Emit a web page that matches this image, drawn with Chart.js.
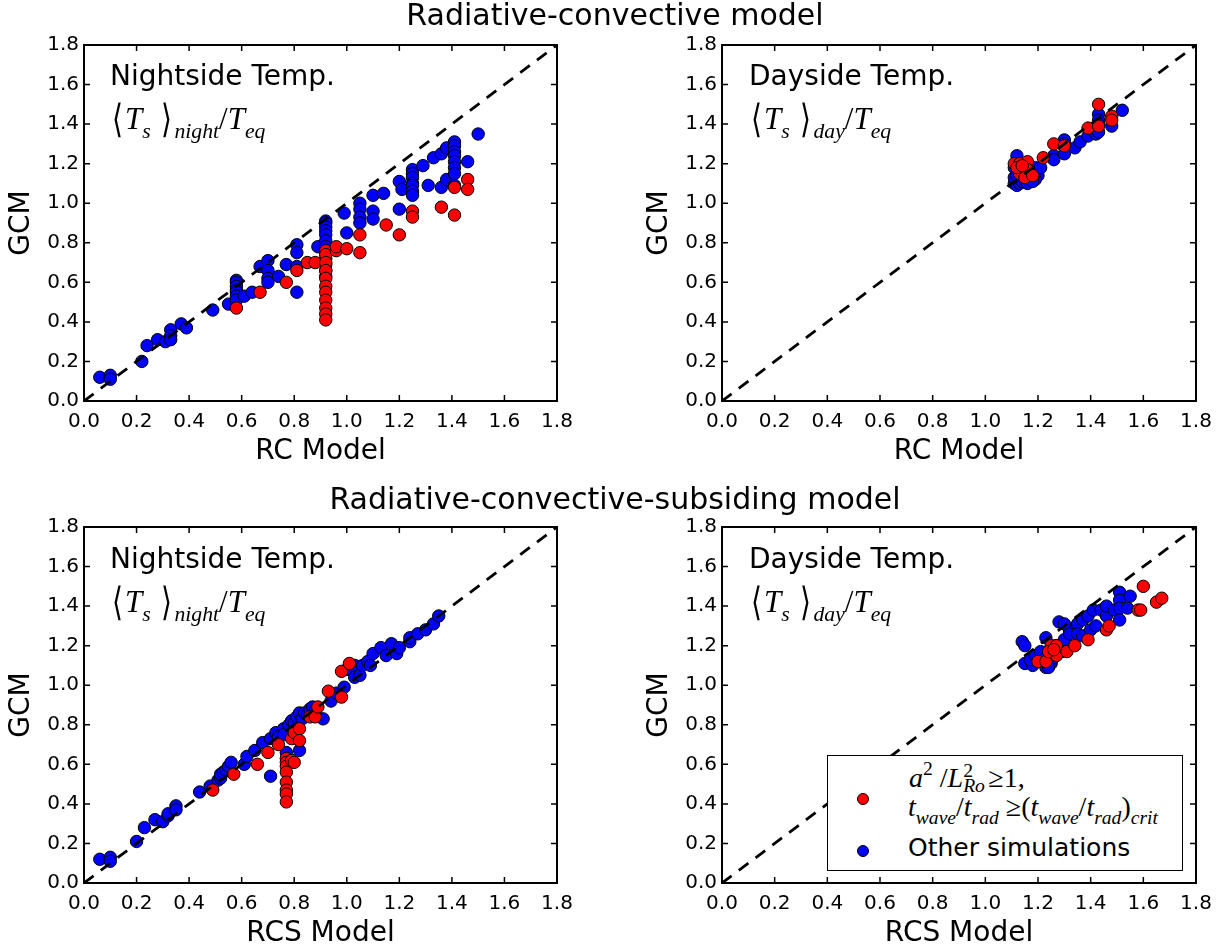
<!DOCTYPE html>
<html>
  <head>
    <meta charset="utf-8">
    <script src="https://cdn.jsdelivr.net/npm/chart.js@4.4.0/dist/chart.umd.min.js"></script>
    <style>
      html, body {
        margin: 0;
        padding: 0;
        overflow: hidden;
        background: #fff;
        font-family: "DejaVu Sans", sans-serif;
        color: #000;
      }
      #page {
        position: relative;
        width: 1230px;
        height: 951px;
        overflow: hidden;
      }
      canvas {
        position: absolute;
      }
      .suptitle {
        position: absolute;
        left: 0;
        width: 1230px;
        text-align: center;
        font-size: 30px;
        line-height: 1;
      }
      .note {
        position: absolute;
        font-size: 28px;
        line-height: 1;
        white-space: nowrap;
      }
      .math {
        position: absolute;
        font-family: "Liberation Serif", serif;
        font-size: 31px;
        line-height: 1;
        white-space: nowrap;
      }
      .math i, .leg i {
        font-style: italic;
      }
      .math sub, .leg sub {
        font-size: 70%;
        line-height: 0;
        vertical-align: -0.4em;
      }
      .math sup, .leg sup {
        font-size: 70%;
        line-height: 0;
        vertical-align: 0.6em;
      }
      .br {
        display: inline-block;
        font-family: "DejaVu Sans", sans-serif;
        font-weight: 200;
        transform: scale(0.9, 1.25);
        margin: 0 2px;
      }
      #legend {
        position: absolute;
        left: 827px;
        top: 755px;
        width: 354px;
        height: 114px;
        border: 1.5px solid #000;
        background: #fff;
      }
      .dot {
        position: absolute;
        width: 10px;
        height: 10px;
        border: 1px solid #000;
        border-radius: 50%;
      }
      .leg {
        position: absolute;
        font-family: "Liberation Serif", serif;
        font-size: 28px;
        line-height: 1;
        white-space: nowrap;
      }
      .stk {
        position: relative;
        display: inline-block;
        height: 0;
        width: 0.9em;
      }
      .stk span {
        position: absolute;
        left: 0;
        font-size: 70%;
        line-height: 1;
      }
    </style>
  </head>
  <body>
    <div id="page">
      <canvas id="rcNight"></canvas>
      <canvas id="rcDay"></canvas>
      <canvas id="rcsNight"></canvas>
      <canvas id="rcsDay"></canvas>

      <div class="suptitle" style="top:0px">Radiative-convective model</div>
      <div class="suptitle" style="top:484px">Radiative-convective-subsiding model</div>

      <div class="note" style="left:110px; top:62px">Nightside Temp.</div>
      <div class="math" style="left:109px; top:103px"><span class="br">⟨</span><i>T</i><sub><i>s</i></sub> <span class="br">⟩</span><sub><i>night</i></sub>/<i>T</i><sub><i>eq</i></sub></div>
      <div class="note" style="left:749px; top:62px">Dayside Temp.</div>
      <div class="math" style="left:748px; top:103px"><span class="br">⟨</span><i>T</i><sub><i>s</i></sub> <span class="br">⟩</span><sub><i>day</i></sub>/<i>T</i><sub><i>eq</i></sub></div>
      <div class="note" style="left:110px; top:545px">Nightside Temp.</div>
      <div class="math" style="left:109px; top:586px"><span class="br">⟨</span><i>T</i><sub><i>s</i></sub> <span class="br">⟩</span><sub><i>night</i></sub>/<i>T</i><sub><i>eq</i></sub></div>
      <div class="note" style="left:749px; top:545px">Dayside Temp.</div>
      <div class="math" style="left:748px; top:586px"><span class="br">⟨</span><i>T</i><sub><i>s</i></sub> <span class="br">⟩</span><sub><i>day</i></sub>/<i>T</i><sub><i>eq</i></sub></div>

      <div id="legend">
        <div class="dot" style="left:29px; top:37px; background:#ff0000"></div>
        <div class="dot" style="left:29px; top:89px; background:#0000ff"></div>
        <div class="leg" style="left:81px; top:8px"><i>a</i><sup>2</sup> /<i>L</i><span class="stk"><span style="bottom:0.35em">2</span><span style="top:-0.55em"><i>Ro</i></span></span>≥1,</div>
        <div class="leg" style="left:80px; top:37px"><i>t</i><sub><i>wave</i></sub>/<i>t</i><sub><i>rad</i></sub> ≥(<i>t</i><sub><i>wave</i></sub>/<i>t</i><sub><i>rad</i></sub>)<sub><i>crit</i></sub></div>
        <div class="note" style="left:80px; top:79px; font-size:25px">Other simulations</div>
      </div>
    </div>

    <script>
      // axes: both go 0..1.8
      const tickValues = [0, 0.2, 0.4, 0.6, 0.8, 1.0, 1.2, 1.4, 1.6, 1.8];
      const tickLabels = ['0.0', '0.2', '0.4', '0.6', '0.8', '1.0', '1.2', '1.4', '1.6', '1.8'];
      const oneToOne = [[0, 0], [1.8, 1.8]];

      // RC model, nightside  [model, GCM]
      const rcNightBlue = [
        [0.06, 0.12], [0.10, 0.13], [0.10, 0.11], [0.22, 0.20], [0.24, 0.28], [0.28, 0.31], [0.31, 0.30],
        [0.33, 0.36], [0.33, 0.33], [0.33, 0.31], [0.37, 0.39], [0.39, 0.37], [0.49, 0.46], [0.55, 0.49],
        [0.58, 0.61], [0.58, 0.60], [0.58, 0.58], [0.58, 0.56], [0.58, 0.55], [0.58, 0.53], [0.58, 0.51],
        [0.61, 0.53], [0.64, 0.55], [0.67, 0.68], [0.70, 0.71], [0.70, 0.66], [0.70, 0.62], [0.70, 0.60],
        [0.74, 0.63], [0.77, 0.69], [0.81, 0.79], [0.81, 0.75], [0.81, 0.68], [0.81, 0.55], [0.89, 0.78],
        [0.92, 0.91], [0.92, 0.90], [0.92, 0.88], [0.92, 0.86], [0.92, 0.84], [0.92, 0.81], [0.92, 0.78],
        [0.92, 0.75], [0.92, 0.72], [0.92, 0.69], [0.92, 0.66], [0.92, 0.63],
        [0.99, 0.95], [1.00, 0.85], [1.05, 1.00], [1.05, 0.97], [1.05, 0.93], [1.05, 0.90],
        [1.10, 1.04], [1.10, 0.96], [1.10, 0.92], [1.14, 1.05], [1.20, 1.11], [1.21, 1.07], [1.20, 0.97],
        [1.25, 1.17], [1.25, 1.15], [1.25, 1.13], [1.25, 1.10], [1.25, 1.09], [1.25, 1.06], [1.25, 1.04],
        [1.29, 1.19], [1.31, 1.09], [1.33, 1.23], [1.36, 1.25], [1.36, 1.08], [1.38, 1.28], [1.38, 1.12],
        [1.41, 1.31], [1.41, 1.29], [1.41, 1.26], [1.41, 1.24], [1.41, 1.21], [1.41, 1.18], [1.41, 1.15],
        [1.41, 1.09], [1.46, 1.21], [1.50, 1.35]
      ];
      const rcNightRed = [
        [0.58, 0.47], [0.67, 0.55], [0.77, 0.60], [0.81, 0.66], [0.85, 0.70], [0.88, 0.70],
        [0.92, 0.76], [0.92, 0.74], [0.92, 0.70], [0.92, 0.66], [0.92, 0.62], [0.92, 0.58], [0.92, 0.55],
        [0.92, 0.51], [0.92, 0.47], [0.92, 0.44], [0.92, 0.41],
        [0.96, 0.76], [0.96, 0.78], [1.00, 0.77], [1.05, 0.84], [1.05, 0.75], [1.15, 0.89], [1.20, 0.84],
        [1.25, 0.96], [1.25, 0.93], [1.36, 0.98], [1.41, 1.08], [1.41, 0.94], [1.46, 1.12], [1.46, 1.07]
      ];

      // RC model, dayside
      const rcDayBlue = [
        [1.12, 1.24], [1.11, 1.10], [1.12, 1.09], [1.13, 1.10], [1.11, 1.13], [1.12, 1.16], [1.14, 1.11],
        [1.15, 1.12], [1.17, 1.12], [1.19, 1.18], [1.20, 1.14], [1.21, 1.18], [1.19, 1.12], [1.16, 1.10],
        [1.18, 1.11], [1.11, 1.18], [1.13, 1.20], [1.12, 1.14],
        [1.26, 1.24], [1.26, 1.22], [1.30, 1.32], [1.30, 1.25], [1.30, 1.30], [1.34, 1.28], [1.36, 1.31],
        [1.39, 1.34], [1.42, 1.35], [1.43, 1.45], [1.43, 1.42], [1.43, 1.40], [1.43, 1.36], [1.48, 1.39],
        [1.52, 1.47]
      ];
      const rcDayRed = [
        [1.11, 1.20], [1.13, 1.20], [1.13, 1.15], [1.16, 1.21], [1.16, 1.17], [1.15, 1.13], [1.18, 1.14],
        [1.12, 1.18], [1.14, 1.19], [1.22, 1.23], [1.26, 1.30], [1.30, 1.29], [1.39, 1.38], [1.43, 1.50],
        [1.43, 1.39], [1.48, 1.44], [1.48, 1.42]
      ];

      // RCS model, nightside
      const rcsNightBlue = [
        [0.06, 0.12], [0.10, 0.13], [0.10, 0.11], [0.20, 0.21], [0.23, 0.28], [0.27, 0.32], [0.30, 0.31],
        [0.32, 0.34], [0.32, 0.35], [0.35, 0.39], [0.35, 0.37], [0.44, 0.46], [0.48, 0.49],
        [0.51, 0.52], [0.52, 0.53], [0.52, 0.55], [0.53, 0.56], [0.54, 0.57], [0.55, 0.59], [0.56, 0.61],
        [0.61, 0.60], [0.62, 0.64], [0.65, 0.67], [0.68, 0.71], [0.71, 0.73], [0.73, 0.76], [0.76, 0.78],
        [0.71, 0.54], [0.77, 0.66], [0.82, 0.67], [0.74, 0.74], [0.76, 0.75], [0.78, 0.80], [0.79, 0.82],
        [0.80, 0.81], [0.81, 0.84], [0.82, 0.86], [0.83, 0.83], [0.84, 0.86], [0.85, 0.85], [0.86, 0.88],
        [0.87, 0.89], [0.88, 0.87], [0.91, 0.83], [0.94, 0.92], [0.96, 0.96], [0.99, 0.99],
        [1.00, 1.08], [1.03, 1.10], [1.03, 1.04], [1.05, 1.05], [1.06, 1.10], [1.08, 1.12], [1.09, 1.10],
        [1.10, 1.16], [1.13, 1.19], [1.15, 1.15], [1.17, 1.21], [1.19, 1.16], [1.20, 1.19],
        [1.24, 1.22], [1.24, 1.24], [1.27, 1.26], [1.30, 1.28], [1.33, 1.31], [1.35, 1.35]
      ];
      const rcsNightRed = [
        [0.49, 0.47], [0.57, 0.55], [0.66, 0.60], [0.70, 0.66], [0.74, 0.70],
        [0.77, 0.63], [0.77, 0.61], [0.77, 0.59], [0.77, 0.56], [0.77, 0.51], [0.77, 0.47], [0.77, 0.45],
        [0.77, 0.41], [0.79, 0.62], [0.80, 0.61], [0.79, 0.73], [0.80, 0.76], [0.82, 0.78], [0.82, 0.72],
        [0.86, 0.84], [0.88, 0.84], [0.89, 0.89], [0.93, 0.97], [0.98, 0.94], [0.98, 1.07], [1.01, 1.11]
      ];

      // RCS model, dayside
      const rcsDayBlue = [
        [1.14, 1.22], [1.15, 1.20], [1.15, 1.11], [1.18, 1.10], [1.20, 1.12], [1.22, 1.14], [1.23, 1.24],
        [1.23, 1.09], [1.25, 1.11], [1.17, 1.13], [1.19, 1.15], [1.21, 1.17], [1.24, 1.09], [1.26, 1.14],
        [1.27, 1.20], [1.29, 1.17], [1.30, 1.23], [1.32, 1.28], [1.35, 1.31], [1.37, 1.33], [1.39, 1.35],
        [1.41, 1.38], [1.44, 1.38], [1.47, 1.38], [1.28, 1.32], [1.30, 1.31], [1.32, 1.26], [1.35, 1.26],
        [1.37, 1.25], [1.40, 1.28], [1.42, 1.30], [1.46, 1.35], [1.46, 1.40], [1.49, 1.38],
        [1.51, 1.47], [1.51, 1.43], [1.51, 1.39], [1.51, 1.33], [1.54, 1.39], [1.55, 1.45]
      ];
      const rcsDayRed = [
        [1.20, 1.12], [1.23, 1.12], [1.25, 1.20], [1.27, 1.20], [1.27, 1.15], [1.24, 1.17], [1.26, 1.18],
        [1.31, 1.17], [1.34, 1.20], [1.39, 1.23], [1.46, 1.28], [1.47, 1.30], [1.58, 1.38], [1.59, 1.38],
        [1.60, 1.50], [1.65, 1.42], [1.67, 1.44]
      ];

      Chart.defaults.font.family = "'DejaVu Sans', sans-serif";
      Chart.defaults.color = '#000';

      // matplotlib-like box with inward ticks on all four sides
      const framePlugin = {
        id: 'frame',
        afterDatasetsDraw(chart) {
          const {ctx, chartArea: a, scales: {x, y}} = chart;
          ctx.save();
          ctx.strokeStyle = '#000';
          ctx.lineWidth = 1.5;
          ctx.beginPath();
          tickValues.forEach(v => {
            const px = x.getPixelForValue(v);
            const py = y.getPixelForValue(v);
            ctx.moveTo(px, a.bottom); ctx.lineTo(px, a.bottom - 6);
            ctx.moveTo(px, a.top); ctx.lineTo(px, a.top + 6);
            ctx.moveTo(a.left, py); ctx.lineTo(a.left + 6, py);
            ctx.moveTo(a.right, py); ctx.lineTo(a.right - 6, py);
          });
          ctx.stroke();
          ctx.lineWidth = 2;
          ctx.strokeRect(a.left, a.top, a.right - a.left, a.bottom - a.top);
          ctx.restore();
        }
      };

      function pts(arr) {
        return arr.map(p => ({x: p[0], y: p[1]}));
      }

      function axis(title, isX) {
        return {
          type: 'linear',
          min: 0,
          max: 1.8,
          afterBuildTicks: s => { s.ticks = tickValues.map(v => ({value: v})); },
          afterFit: s => { if (isX) s.height = 70; else s.width = 84; },
          grid: {display: false, drawTicks: false},
          border: {display: false},
          ticks: {
            callback: (v, i) => tickLabels[i],
            padding: isX ? 9 : 5,
            font: {size: 20},
            maxRotation: 0,
            autoSkip: false
          },
          title: {
            display: true,
            text: title,
            font: {size: 28, lineHeight: 1},
            padding: isX ? {top: 0, bottom: 5} : {top: 8, bottom: 0}
          }
        };
      }

      // box = plot area in page pixels
      function drawPanel(id, box, blue, red, xTitle) {
        const canvas = document.getElementById(id);
        canvas.width = box.w + 124;
        canvas.height = box.h + 110;
        canvas.style.left = (box.left - 84) + 'px';
        canvas.style.top = (box.top - 40) + 'px';

        const dot = {borderColor: '#000', borderWidth: 1, pointRadius: 6.2};
        new Chart(canvas, {
          type: 'scatter',
          data: {
            datasets: [
              {
                type: 'line',
                data: pts(oneToOne),
                borderColor: '#000',
                borderWidth: 2.8,
                borderDash: [12, 9],
                pointRadius: 0,
                fill: false
              },
              Object.assign({data: pts(red), backgroundColor: '#ff0000'}, dot),
              Object.assign({data: pts(blue), backgroundColor: '#0000ff'}, dot)
            ]
          },
          options: {
            responsive: false,
            animation: false,
            devicePixelRatio: 1,
            layout: {padding: {left: 0, top: 40, right: 40, bottom: 0}},
            plugins: {legend: {display: false}, tooltip: {enabled: false}},
            scales: {
              x: axis(xTitle, true),
              y: axis('GCM', false)
            }
          },
          plugins: [framePlugin]
        });
      }

      drawPanel('rcNight', {left: 84, top: 45, w: 473, h: 356}, rcNightBlue, rcNightRed, 'RC Model');
      drawPanel('rcDay', {left: 722, top: 45, w: 474, h: 356}, rcDayBlue, rcDayRed, 'RC Model');
      drawPanel('rcsNight', {left: 84, top: 527, w: 473, h: 356}, rcsNightBlue, rcsNightRed, 'RCS Model');
      drawPanel('rcsDay', {left: 722, top: 527, w: 474, h: 356}, rcsDayBlue, rcsDayRed, 'RCS Model');
    </script>
  </body>
</html>
